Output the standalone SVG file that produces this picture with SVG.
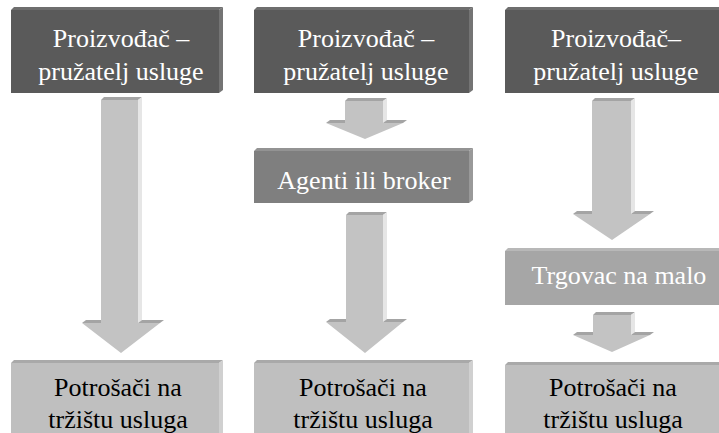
<svg xmlns="http://www.w3.org/2000/svg" width="719" height="433" viewBox="0 0 719 433">
<style>
text{font-family:"Liberation Serif","Times New Roman",serif;font-size:26px;text-anchor:middle}
.w{fill:#ffffff}.k{fill:#000000}
.dark{fill:#5a5a5a}.darkT{fill:#6e6e6e}.darkR{fill:#747474}
.mid{fill:#7f7f7f}.midT{fill:#939393}.midR{fill:#999999}
.lt{fill:#a6a6a6}.ltT{fill:#b8b8b8}.ltR{fill:#bcbcbc}
.pale{fill:#bfbfbf}.paleT{fill:#a9a9a9}.paleR{fill:#d0d0d0}
.arr{fill:#c3c3c3}.arrT{fill:#a4a4a4}.arrR{fill:#e6e6e6}
</style>
<g id="connectors">
  <g id="a1">
    <polygon class="arr" points="101,100 138,100 138,323 160,323 121,353 82,323 101,323"/>
    <polygon class="arrT" points="101,100 104,97 142,97 138,100"/>
    <polygon class="arrR" points="138,100 142,97 142,320 138,323"/>
    <polygon class="arrT" points="82,323 86,320 101,320 101,323"/>
    <polygon class="arrT" points="138,323 142,320 164,320 160,323"/>
  </g>
  <g id="a2a">
    <polygon class="arr" points="345,101 383,101 383,123 403,123 365,139 326,123 345,123"/>
    <polygon class="arrT" points="345,101 348,98 387,98 383,101"/>
    <polygon class="arrR" points="383,101 387,98 387,120 383,123"/>
    <polygon class="arrT" points="326,123 330,120 345,120 345,123"/>
    <polygon class="arrT" points="383,123 387,120 407,120 403,123"/>
  </g>
  <g id="a2b">
    <polygon class="arr" points="346,215 383,215 383,322 403,322 365,353 326,322 346,322"/>
    <polygon class="arrT" points="346,215 349,212 387,212 383,215"/>
    <polygon class="arrR" points="383,215 387,212 387,319 383,322"/>
    <polygon class="arrT" points="326,322 330,319 346,319 346,322"/>
    <polygon class="arrT" points="383,322 387,319 407,319 403,322"/>
  </g>
  <g id="a3a">
    <polygon class="arr" points="592,101 631,101 631,214 650,214 612,240 573,214 592,214"/>
    <polygon class="arrT" points="592,101 595,98 635,98 631,101"/>
    <polygon class="arrR" points="631,101 635,98 635,211 631,214"/>
    <polygon class="arrT" points="573,214 577,211 592,211 592,214"/>
    <polygon class="arrT" points="631,214 635,211 654,211 650,214"/>
  </g>
  <g id="a3b">
    <polygon class="arr" points="593,315 631,315 631,335 650,335 612,352 573,335 593,335"/>
    <polygon class="arrT" points="593,315 596,312 635,312 631,315"/>
    <polygon class="arrR" points="631,315 635,312 635,332 631,335"/>
    <polygon class="arrT" points="573,335 577,332 593,332 593,335"/>
    <polygon class="arrT" points="631,335 635,332 654,332 650,335"/>
  </g>
</g>
<g id="p1">
  <rect class="dark" x="11" y="10" width="208" height="83"/>
  <polygon class="darkT" points="11,10 14,7 223,7 219,10"/>
  <polygon class="darkR" points="219,10 223,7 223,90 219,93"/>
  <text class="w" x="121" y="47">Proizvođač –</text>
  <text class="w" x="121" y="80">pružatelj usluge</text>
</g>
<g id="p2">
  <rect class="dark" x="254" y="10" width="215" height="83"/>
  <polygon class="darkT" points="254,10 257,7 473,7 469,10"/>
  <polygon class="darkR" points="469,10 473,7 473,90 469,93"/>
  <text class="w" x="366" y="47">Proizvođač –</text>
  <text class="w" x="366" y="80">pružatelj usluge</text>
</g>
<g id="p3">
  <rect class="dark" x="505" y="10" width="214" height="83"/>
  <polygon class="darkT" points="505,10 508,7 719,7 719,10"/>
  <text class="w" x="616" y="47">Proizvođač–</text>
  <text class="w" x="616" y="80">pružatelj usluge</text>
</g>
<g id="agent">
  <rect class="mid" x="254" y="151" width="215" height="52"/>
  <polygon class="midT" points="254,151 257,148 473,148 469,151"/>
  <polygon class="midR" points="469,151 473,148 473,200 469,203"/>
  <text class="w" x="364" y="189">Agenti ili broker</text>
</g>
<g id="retail">
  <rect class="lt" x="505" y="251" width="214" height="54"/>
  <polygon class="ltT" points="505,251 508,248 719,248 719,251"/>
  <text class="w" x="619" y="284">Trgovac na malo</text>
</g>
<g id="c1">
  <rect class="pale" x="11" y="363" width="208" height="70"/>
  <polygon class="paleT" points="11,363 14,360 223,360 219,363"/>
  <polygon class="paleR" points="219,363 223,360 223,433 219,433"/>
  <text class="k" x="118" y="396">Potrošači na</text>
  <text class="k" x="118" y="428">tržištu usluga</text>
</g>
<g id="c2">
  <rect class="pale" x="254" y="363" width="215" height="70"/>
  <polygon class="paleT" points="254,363 257,360 473,360 469,363"/>
  <polygon class="paleR" points="469,363 473,360 473,433 469,433"/>
  <text class="k" x="363" y="396">Potrošači na</text>
  <text class="k" x="363" y="428">tržištu usluga</text>
</g>
<g id="c3">
  <rect class="pale" x="505" y="365" width="214" height="68"/>
  <polygon class="paleT" points="505,365 508,362 719,362 719,365"/>
  <text class="k" x="613" y="396">Potrošači na</text>
  <text class="k" x="613" y="428">tržištu usluga</text>
</g>
</svg>
